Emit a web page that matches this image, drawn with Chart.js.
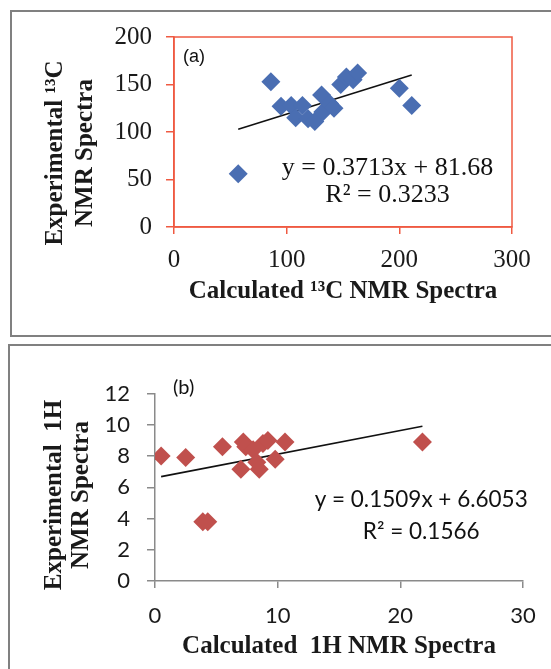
<!DOCTYPE html>
<html>
<head>
<meta charset="utf-8">
<script src="https://cdn.jsdelivr.net/npm/chart.js@4.4.0/dist/chart.umd.min.js"></script>
<style>
body { margin:0; background:#fff; width:551px; height:669px; overflow:hidden; position:relative; }
.box { position:absolute; border:2px solid #808080; }
#boxA { left:10px; top:10px; width:600px; height:323px; }
#boxB { left:8px; top:344px; width:600px; height:400px; }
canvas { position:absolute; left:0; }
#chartA { top:0; }
#chartB { top:340px; }
</style>
</head>
<body>
<div class="box" id="boxA"></div>
<div class="box" id="boxB"></div>
<canvas id="chartA" width="551" height="340"></canvas>
<canvas id="chartB" width="551" height="329"></canvas>
<script>
// (a) 13C: calculated vs experimental
const calcC = [86, 57, 200, 211, 95, 104, 108, 114, 119, 125, 131, 132, 138, 142, 148, 153, 159, 163];
const expC  = [153, 56, 146, 128, 127, 128, 115, 128, 114, 111, 139, 121, 130, 125, 150, 158, 155, 162];
const trendCx = [57, 211];
const trendCy = [102.8, 160.0];
const ticksCx = [0, 100, 200, 300];
const ticksCy = [0, 50, 100, 150, 200];

// (b) 1H: calculated vs experimental
const calcH = [0.5, 2.5, 5.5, 3.9, 4.3, 7.0, 7.2, 7.4, 8.0, 8.3, 8.5, 8.8, 9.2, 9.8, 10.6, 21.8];
const expH  = [8.0, 7.9, 8.6, 3.8, 3.8, 7.15, 8.9, 8.6, 8.4, 7.6, 7.15, 8.8, 9.0, 7.8, 8.9, 8.9];
const trendHx = [0.5, 21.8];
const trendHy = [6.68, 9.90];
const ticksHx = [0, 10, 20, 30];
const ticksHy = [0, 2, 4, 6, 8, 10, 12];

const RED = '#ef5a42';
const AXGRAY = '#8a8a8a';
const SERIF = '"Liberation Serif", "Times New Roman", serif';
const SANS = 'Lato, "Open Sans", sans-serif';

function pts(xs, ys) { return xs.map((x, i) => ({x: x, y: ys[i]})); }

const notes = {
    id: 'notes',
    afterDraw(chart, args, opts) {
        const ctx = chart.ctx, a = chart.chartArea;
        const sx = chart.scales.x, sy = chart.scales.y;
        ctx.save();
        if (opts.frame) {
            ctx.strokeStyle = opts.frame;
            ctx.lineWidth = 1.5;
            ctx.strokeRect(a.left, a.top, a.right - a.left, a.bottom - a.top);
        }
        ctx.fillStyle = '#111';
        // panel tag
        ctx.font = opts.tagFont;
        ctx.textAlign = 'left';
        ctx.textBaseline = 'middle';
        ctx.fillText(opts.tag, opts.tagX, opts.tagY);
        // trendline equation
        ctx.font = opts.eqFont;
        ctx.textAlign = 'center';
        ctx.fillText(opts.eq[0], sx.getPixelForValue(opts.eqAt[0]), sy.getPixelForValue(opts.eqAt[1]));
        ctx.fillText(opts.eq[1], sx.getPixelForValue(opts.eqAt[0]), sy.getPixelForValue(opts.eqAt[2]));
        // two-line y title
        ctx.font = 'bold 25px ' + SERIF;
        ctx.fillStyle = '#1a1a1a';
        for (let i = 0; i < opts.yTitle.length; i++) {
            ctx.save();
            ctx.translate(opts.yTitleX[i], opts.yTitleY);
            ctx.rotate(-Math.PI / 2);
            ctx.fillText(opts.yTitle[i], 0, 0);
            ctx.restore();
        }
        ctx.restore();
    }
};

function makeChart(id, cfg) {
    return new Chart(document.getElementById(id), {
        type: 'scatter',
        data: {
            datasets: [{
                data: pts(cfg.xs, cfg.ys),
                pointStyle: 'rectRot',
                pointRadius: 9.5,
                backgroundColor: cfg.color,
                borderColor: cfg.color,
                borderWidth: 0
            }, {
                type: 'line',
                data: pts(cfg.tx, cfg.ty),
                borderColor: '#111',
                borderWidth: 1.6,
                pointRadius: 0,
                fill: false
            }]
        },
        options: {
            responsive: false,
            animation: false,
            devicePixelRatio: 1,
            layout: { padding: cfg.padding },
            plugins: {
                legend: { display: false },
                tooltip: { enabled: false },
                notes: cfg.notes
            },
            scales: {
                x: {
                    type: 'linear',
                    min: cfg.xTicks[0], max: cfg.xTicks[cfg.xTicks.length - 1],
                    afterBuildTicks: s => { s.ticks = cfg.xTicks.map(v => ({value: v})); },
                    afterFit: s => { s.height = cfg.xHeight; },
                    grid: { drawOnChartArea: false, drawTicks: true, tickLength: 7, color: cfg.axis, lineWidth: 1.5 },
                    border: { color: cfg.axis, width: 1.5 },
                    ticks: { font: cfg.tickFont, color: '#1a1a1a', padding: cfg.xPad, maxRotation: 0 },
                    title: {
                        display: true, text: cfg.xTitle, color: '#1a1a1a',
                        font: { family: SERIF, size: 25, weight: 'bold' },
                        padding: { top: 0, bottom: 0 }
                    }
                },
                y: {
                    type: 'linear',
                    min: cfg.yTicks[0], max: cfg.yTicks[cfg.yTicks.length - 1],
                    afterBuildTicks: s => { s.ticks = cfg.yTicks.map(v => ({value: v})); },
                    afterFit: s => { s.width = cfg.yWidth; },
                    grid: { drawOnChartArea: false, drawTicks: true, tickLength: 8, color: cfg.axis, lineWidth: 1.5 },
                    border: { color: cfg.axis, width: 1.5 },
                    ticks: { font: cfg.tickFont, color: '#1a1a1a', padding: cfg.yPad }
                }
            }
        },
        plugins: [notes]
    });
}

makeChart('chartA', {
    xs: calcC, ys: expC, tx: trendCx, ty: trendCy,
    xTicks: ticksCx, yTicks: ticksCy,
    color: '#4a6eb2', axis: RED,
    padding: { left: 0, top: 37, right: 39, bottom: 33 },
    xHeight: 80, yWidth: 174, xPad: 11, yPad: 14,
    tickFont: { family: SERIF, size: 25 },
    xTitle: 'Calculated \u00b9\u00b3C NMR Spectra',
    notes: {
        frame: RED,
        tag: '(a)', tagFont: '18px "Liberation Sans", Arial, sans-serif', tagX: 183, tagY: 57,
        eq: ['y = 0.3713x + 81.68', 'R\u00b2 = 0.3233'], eqFont: '26px ' + SERIF,
        eqAt: [189.5, 62, 33.5],
        yTitle: ['Experimental \u00b9\u00b3C', 'NMR Spectra'], yTitleX: [56, 86], yTitleY: 153
    }
});

makeChart('chartB', {
    xs: calcH, ys: expH, tx: trendHx, ty: trendHy,
    xTicks: ticksHx, yTicks: ticksHy,
    color: '#c0504d', axis: AXGRAY,
    padding: { left: 0, top: 53.5, right: 28, bottom: 7 },
    xHeight: 81, yWidth: 155, xPad: 15, yPad: 17,
    tickFont: { family: SANS, size: 22 },
    xTitle: 'Calculated  1H NMR Spectra',
    notes: {
        frame: null,
        tag: '(b)', tagFont: '20px ' + SANS, tagX: 173, tagY: 48,
        eq: ['y = 0.1509x + 6.6053', 'R\u00b2 = 0.1566'], eqFont: '22.5px ' + SANS,
        eqAt: [21.7, 5.17, 3.13],
        yTitle: ['Experimental  1H', 'NMR Spectra'], yTitleX: [55, 82], yTitleY: 155
    }
});
</script>
</body>
</html>
